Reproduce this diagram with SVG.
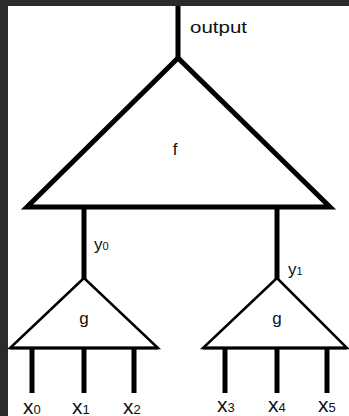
<svg xmlns="http://www.w3.org/2000/svg" width="349" height="416" viewBox="0 0 349 416">
<style>
.w{stroke:#000;stroke-width:5;fill:none;stroke-linecap:butt}
.tri{fill:#fff;stroke:#000;stroke-linejoin:miter}
.t{font-family:"Liberation Sans",Arial,sans-serif;fill:#111}
.s{font-size:11px}
.xs{font-size:13px}
</style>
<rect width="349" height="416" fill="#fff"/>
<rect x="0" y="0" width="349" height="6" fill="#2b2b2b"/>
<rect x="0" y="0" width="8" height="416" fill="#2b2b2b"/>
<g id="connectors">
<line class="w" x1="178" y1="6" x2="178" y2="58"/>
<line class="w" x1="84" y1="207" x2="84" y2="279"/>
<line class="w" x1="277" y1="207" x2="277" y2="279"/>
<line class="w" x1="32" y1="348" x2="32" y2="393"/>
<line class="w" x1="84" y1="348" x2="84" y2="393"/>
<line class="w" x1="134" y1="348" x2="134" y2="393"/>
<line class="w" x1="225" y1="348" x2="225" y2="393"/>
<line class="w" x1="277" y1="348" x2="277" y2="393"/>
<line class="w" x1="327" y1="348" x2="327" y2="393"/>
</g>
<g id="f">
<polygon class="tri" stroke-width="5" points="178,58 27,207 330,207"/>
<text class="t" x="175" y="155" font-size="17" text-anchor="middle">f</text>
</g>
<g id="g0">
<polygon class="tri" stroke-width="2.5" points="84,278 10,348 158,348"/>
<line x1="10" y1="348" x2="158" y2="348" stroke="#000" stroke-width="3"/>
<text class="t" x="84" y="324" font-size="17" text-anchor="middle">g</text>
</g>
<g id="g1">
<polygon class="tri" stroke-width="2.5" points="277,278 203,348 347,348"/>
<line x1="203" y1="348" x2="347" y2="348" stroke="#000" stroke-width="3"/>
<text class="t" x="277" y="324" font-size="17" text-anchor="middle">g</text>
</g>
<g id="labels">
<text class="t" x="190" y="33" font-size="16" textLength="57" lengthAdjust="spacingAndGlyphs">output</text>
<text class="t" x="94" y="250" font-size="17">y<tspan class="s">0</tspan></text>
<text class="t" x="288" y="275" font-size="17">y<tspan class="s">1</tspan></text>
<text class="t" x="23" y="414" font-size="21">x<tspan class="xs">0</tspan></text>
<text class="t" x="72" y="414" font-size="21">x<tspan class="xs">1</tspan></text>
<text class="t" x="123" y="414" font-size="21">x<tspan class="xs">2</tspan></text>
<text class="t" x="217" y="412" font-size="21">x<tspan class="xs">3</tspan></text>
<text class="t" x="268" y="412" font-size="21">x<tspan class="xs">4</tspan></text>
<text class="t" x="318" y="412" font-size="21">x<tspan class="xs">5</tspan></text>
</g>
</svg>
